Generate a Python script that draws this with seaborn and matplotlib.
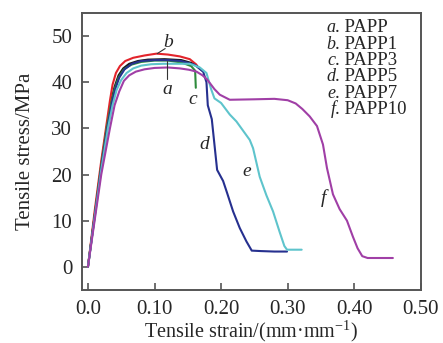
import numpy as np
import pandas as pd
import seaborn as sns
from matplotlib import pyplot as plt

# tensile curves (strain, stress in MPa)
a_x = [0, 0.01, 0.02, 0.028, 0.035, 0.04, 0.046, 0.053, 0.062, 0.075, 0.09, 0.115, 0.14, 0.16, 0.172]
a_y = [0, 11, 22, 30, 36, 39, 41.5, 43, 44, 44.6, 44.9, 45, 44.8, 44, 42.5]

b_x = [0, 0.01, 0.02, 0.027, 0.033, 0.037, 0.042, 0.048, 0.056, 0.068, 0.085, 0.103, 0.12, 0.138,
       0.153, 0.163]
b_y = [0, 12, 23, 30, 36, 39.5, 42, 43.5, 44.6, 45.3, 45.8, 46.2, 46, 45.6, 45, 43.8]

c_x = [0, 0.01, 0.02, 0.028, 0.035, 0.04, 0.046, 0.054, 0.065, 0.08, 0.1, 0.12, 0.14, 0.155,
       0.161, 0.162]
c_y = [0, 11, 22, 30, 35.5, 38.5, 41, 42.8, 43.8, 44.4, 44.7, 44.7, 44.3, 43.5, 42.5, 38.8]

d_x = [0, 0.01, 0.02, 0.029, 0.036, 0.041, 0.047, 0.055, 0.066, 0.08, 0.1, 0.12, 0.14, 0.16, 0.173,
       0.178, 0.18, 0.186, 0.194, 0.203, 0.209, 0.218, 0.228, 0.238, 0.246, 0.26, 0.28, 0.299]
d_y = [0, 10.8, 21.5, 30, 35.5, 38.5, 41, 42.8, 44, 44.6, 44.8, 44.8, 44.6, 43.8, 42.3,
       40, 35, 32, 21, 18.6, 16, 12, 8.4, 5.5, 3.5, 3.4, 3.3, 3.3]

e_x = [0, 0.01, 0.02, 0.03, 0.037, 0.043, 0.05, 0.058, 0.068, 0.08, 0.095, 0.113, 0.135, 0.153,
       0.168, 0.178, 0.185, 0.19, 0.2, 0.213, 0.223, 0.243, 0.248, 0.258, 0.268, 0.278, 0.288,
       0.295, 0.299, 0.321]
e_y = [0, 10.5, 21, 30, 35, 38.3, 40.5, 42, 43, 43.6, 43.9, 44, 44, 44,
       43.2, 42, 38.5, 36.5, 35.5, 33, 31.5, 27.5, 25.7, 19.5, 15.5, 12, 7.5,
       4.5, 3.7, 3.7]

f_x = [0, 0.01, 0.02, 0.033, 0.04, 0.047, 0.054, 0.062, 0.072, 0.085, 0.1, 0.12, 0.138, 0.152,
       0.163, 0.172, 0.179, 0.19, 0.198, 0.213, 0.25, 0.28, 0.3, 0.312, 0.322, 0.333, 0.344, 0.353,
       0.359, 0.368, 0.378, 0.389, 0.398, 0.405, 0.412, 0.42, 0.458]
f_y = [0, 10, 20, 30, 35, 38, 40.3, 41.5, 42.3, 42.8, 43.1, 43.2, 43, 42.7,
       42.3, 41.5, 40.6, 38.5, 37.3, 36.2, 36.3, 36.4, 36.1, 35.4, 34.2, 32.6, 30.5, 26.5,
       21.4, 15.7, 12.5, 10, 6.5, 4, 2.3, 1.9, 1.9]

letters = ["a", "b", "c", "d", "e", "f"]
samples = ["PAPP", "PAPP1", "PAPP3", "PAPP5", "PAPP7", "PAPP10"]
colors = ["#1a1a1a", "#e3242b", "#2e8b3c", "#26308f", "#5ec4cc", "#a03fa6"]
xs = [a_x, b_x, c_x, d_x, e_x, f_x]
ys = [a_y, b_y, c_y, d_y, e_y, f_y]

x_ticks = [0.0, 0.1, 0.2, 0.3, 0.4, 0.5]
x_tick_labels = ["0.0", "0.10", "0.20", "0.30", "0.40", "0.50"]
y_ticks = [0, 10, 20, 30, 40, 50]

frames = []
for name, x, y in zip(samples, xs, ys):
    frames.append(pd.DataFrame({"strain": x, "stress": y, "sample": name}))
df = pd.concat(frames, ignore_index=True)

sns.set_style("ticks")
plt.rcParams["font.family"] = ["Liberation Serif", "DejaVu Serif"]
plt.rcParams["mathtext.fontset"] = "custom"
plt.rcParams["mathtext.rm"] = "Liberation Serif"
plt.rcParams["mathtext.it"] = "Liberation Serif:italic"

fig = plt.figure(figsize=(4.43, 3.43), dpi=100)
ax = fig.add_axes([0.185, 0.155, 0.765, 0.807])

sns.lineplot(data=df, x="strain", y="stress", hue="sample", units="sample", estimator=None,
             sort=False, palette=dict(zip(samples, colors)), linewidth=1.5, legend=False, ax=ax)

# curve labels with short pointer lines
ax.plot([0.119, 0.119], [44.6, 40.8], color="#333333", lw=0.8)
ax.text(0.119, 40.3, "a", style="italic", fontsize=14, ha="center", va="top")
ax.plot([0.104, 0.116], [46.2, 47.3], color="#333333", lw=0.8)
ax.text(0.121, 48.6, "b", style="italic", fontsize=14, ha="center", va="center")
ax.text(0.158, 38.2, "c", style="italic", fontsize=14, ha="center", va="top")
ax.text(0.174, 26.5, "d", style="italic", fontsize=14, ha="center", va="center")
ax.text(0.238, 20.7, "e", style="italic", fontsize=14, ha="center", va="center")
ax.text(0.353, 15, "f", style="italic", fontsize=14, ha="center", va="center")

# text key in the upper right corner: italic letter, then the sample name
for i, (let, name) in enumerate(zip(letters, samples)):
    yk = 0.93 - i * 0.059
    ax.text(0.748, yk, let, style="italic", transform=ax.transAxes,
            fontsize=13, ha="right", va="baseline")
    ax.text(0.748, yk, f". {name}", transform=ax.transAxes,
            fontsize=13.5, ha="left", va="baseline")

ax.set_xlim(-0.009, 0.5)
ax.set_ylim(-5, 55)
ax.set_xticks(x_ticks)
ax.set_xticklabels(x_tick_labels)
ax.set_yticks(y_ticks)
ax.tick_params(direction="in", length=5, width=1.2, color="#555555", labelsize=15, pad=7)
for side in ["top", "right", "bottom", "left"]:
    ax.spines[side].set_visible(True)
    ax.spines[side].set_color("#555555")
    ax.spines[side].set_linewidth(1.4)

ax.set_xlabel("Tensile strain/(mm·mm$^{-1}$)", fontsize=14.5, labelpad=0)
ax.set_ylabel("Tensile stress/MPa", fontsize=15, labelpad=12)

fig.savefig("out.png", dpi=100)
